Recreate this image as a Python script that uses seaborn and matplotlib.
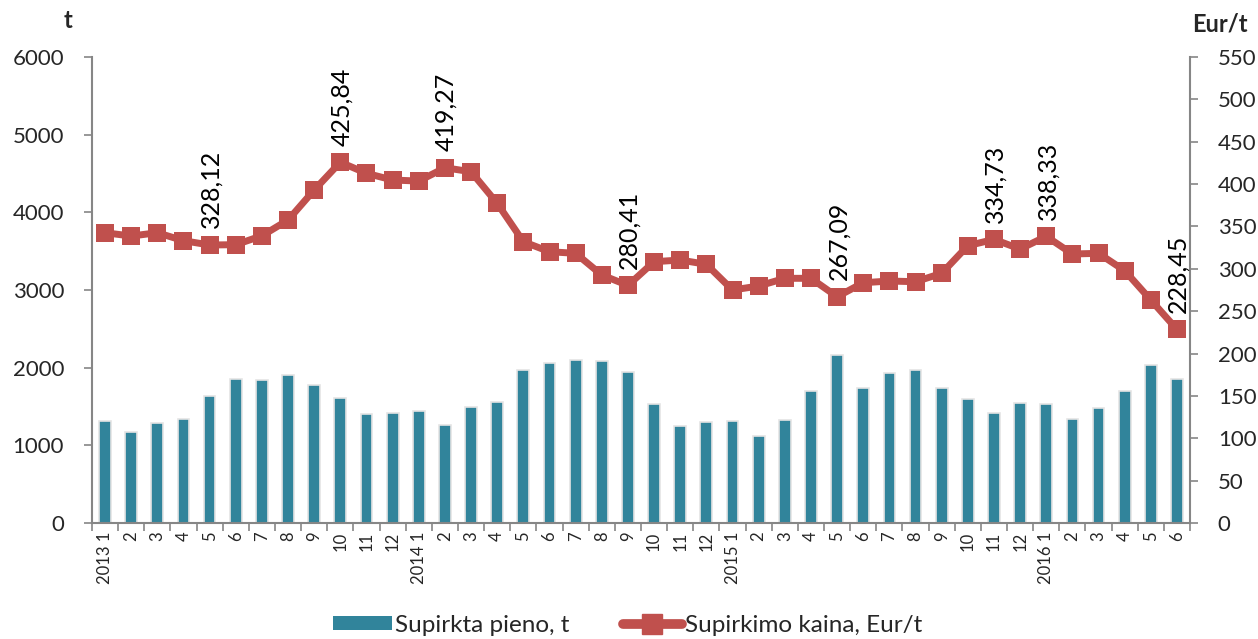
import numpy as np
import pandas as pd
import seaborn as sns
import matplotlib.pyplot as plt
from matplotlib.patches import Patch
from matplotlib.lines import Line2D

# month labels 2013 1 .. 2016 6
menesiai = ['2013 1', '2', '3', '4', '5', '6', '7', '8', '9', '10', '11', '12',
            '2014 1', '2', '3', '4', '5', '6', '7', '8', '9', '10', '11', '12',
            '2015 1', '2', '3', '4', '5', '6', '7', '8', '9', '10', '11', '12',
            '2016 1', '2', '3', '4', '5', '6']

# purchased milk, t
kiekis = [1313, 1171, 1287, 1335, 1634, 1849, 1840, 1905, 1776, 1609, 1403, 1420,
          1437, 1265, 1493, 1553, 1969, 2055, 2102, 2089, 1940, 1536, 1248, 1304,
          1313, 1120, 1326, 1699, 2158, 1733, 1934, 1965, 1733, 1592, 1412, 1544,
          1536, 1335, 1480, 1695, 2030, 1849]

# purchase price, Eur/t
kaina = [342.6, 338.7, 342.6, 333.2, 328.12, 328.5, 339.0, 357.6, 393.0, 425.84, 412.7, 404.8,
         403.6, 419.27, 414.6, 377.3, 332.0, 320.2, 318.3, 292.7, 280.41, 308.4, 310.4, 305.3,
         275.0, 279.7, 288.8, 288.8, 267.09, 283.6, 285.6, 284.8, 294.7, 327.3, 334.73, 323.4,
         338.33, 317.5, 318.3, 297.8, 263.2, 228.45]

# which points get a value label
zymimi = [4, 9, 13, 20, 28, 34, 36, 41]

df = pd.DataFrame({'nr': range(len(menesiai)), 'kiekis': kiekis, 'kaina': kaina})

sns.set_theme(style='white')
plt.rcParams['font.family'] = ['Lato', 'DejaVu Sans']

spalva_bar = '#31849B'
spalva_line = '#C0504D'
pilka = '#868686'

fig = plt.figure(figsize=(12.58, 6.39), dpi=100)
ax = fig.add_axes([0.0731, 0.1815, 0.8729, 0.7293])

sns.barplot(data=df, x='nr', y='kiekis', ax=ax, color=spalva_bar, width=0.45,
            saturation=1, edgecolor='#e4e4e4', linewidth=1.2)

ax2 = ax.twinx()
sns.lineplot(data=df, x='nr', y='kaina', ax=ax2, color=spalva_line, linewidth=5,
             marker='s', markersize=13, markeredgewidth=0)

for i in zymimi:
    ax2.annotate(f'{kaina[i]:.2f}'.replace('.', ','), (i, kaina[i]),
                 xytext=(1, 12), textcoords='offset points', rotation=90,
                 ha='center', va='bottom', fontsize=18, color='black')

ax.set_xlim(-0.5, len(menesiai) - 0.5)
ax.set_ylim(0, 6000)
ax.set_yticks(range(0, 6001, 1000))
ax2.set_ylim(0, 550)
ax2.set_yticks(range(0, 551, 50))

# tick marks between categories, labels in the middle
ax.set_xticks(np.arange(-0.5, len(menesiai), 1))
ax.set_xticklabels([])
ax.set_xticks(np.arange(len(menesiai)), minor=True)
ax.set_xticklabels(menesiai, minor=True, rotation=90, fontsize=12)
ax.tick_params(axis='x', which='major', length=6, color=pilka, width=1.2, direction='out', bottom=True)
ax.tick_params(axis='x', which='minor', length=0, pad=6)
ax.tick_params(axis='y', length=6, color=pilka, width=1.2, direction='out', left=True, labelsize=16, pad=14)
ax2.tick_params(axis='y', length=6, color=pilka, width=1.2, direction='out', right=True, labelsize=16, pad=14)

ax.set_xlabel('')
ax.set_ylabel('')
ax2.set_xlabel('')
ax2.set_ylabel('')

for a in (ax, ax2):
    a.spines['top'].set_visible(False)
    for s in ('left', 'right', 'bottom'):
        a.spines[s].set_color(pilka)
        a.spines[s].set_linewidth(1.5)
ax.spines['right'].set_visible(False)
ax2.spines['left'].set_visible(False)
ax2.spines['bottom'].set_visible(False)
ax.grid(False)
ax2.grid(False)

fig.text(68 / 1258, 1 - 20 / 639, 't', fontsize=17, fontweight='bold', ha='center', va='center')
fig.text(1220 / 1258, 1 - 24 / 639, 'Eur/t', fontsize=17, fontweight='bold', ha='center', va='center')

rankenos = [Patch(facecolor=spalva_bar, edgecolor='none'),
            Line2D([0], [0], color=spalva_line, linewidth=7, marker='s', markersize=14)]
fig.legend(rankenos, ['Supirkta pieno, t', 'Supirkimo kaina, Eur/t'], loc='center',
           bbox_to_anchor=(628 / 1258, 1 - 625 / 639), ncol=2, frameon=False, fontsize=17.5,
           handlelength=2.4, handleheight=0.55, handletextpad=0.15, columnspacing=2.2)

fig.savefig('out.png', dpi=100)
